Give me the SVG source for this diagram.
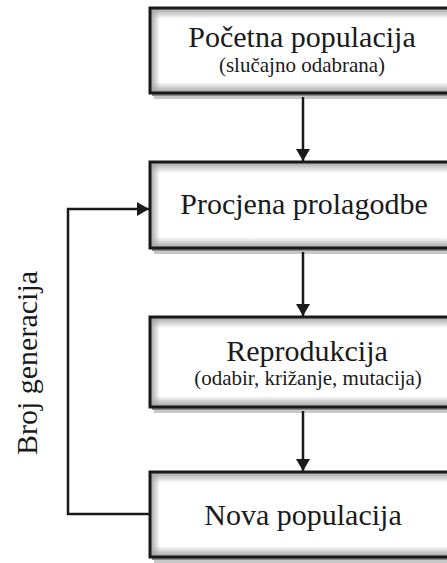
<svg xmlns="http://www.w3.org/2000/svg" width="447" height="563" viewBox="0 0 447 563">
<style>
.box{fill:none;stroke:#1a1a1a;stroke-width:3}
.bg{fill:#fff}
.s1{fill:#c8c8c8}
.s2{fill:#8a8a8a}
.t{font-family:"Liberation Serif","Times New Roman",serif;fill:#1a1a1a;text-anchor:middle}
.big{font-size:30px}
.small{font-size:21px}
.line{fill:none;stroke:#1a1a1a;stroke-width:2.5}
</style>
<defs>
<linearGradient id="gT" x1="0" y1="0" x2="0" y2="1"><stop offset="0" stop-color="#a0a0a0"/><stop offset="1" stop-color="#a0a0a0" stop-opacity="0"/></linearGradient>
<linearGradient id="gB" x1="0" y1="1" x2="0" y2="0"><stop offset="0" stop-color="#a0a0a0"/><stop offset="1" stop-color="#a0a0a0" stop-opacity="0"/></linearGradient>
<linearGradient id="gL" x1="0" y1="0" x2="1" y2="0"><stop offset="0" stop-color="#a0a0a0"/><stop offset="1" stop-color="#a0a0a0" stop-opacity="0"/></linearGradient>
<marker id="ah" viewBox="0 0 12 14" refX="12" refY="7" markerWidth="12" markerHeight="14" markerUnits="userSpaceOnUse" orient="auto"><path d="M0,0L12,7L0,14z" fill="#1a1a1a"/></marker>
</defs>
<g id="n1">
<rect class="s1" x="154" y="11" width="310" height="88"/>
<rect class="s2" x="152" y="10" width="310" height="86"/>
<rect class="bg" x="150" y="8" width="310" height="85"/>
<rect fill="url(#gT)" x="150" y="8" width="310" height="11"/>
<rect fill="url(#gB)" x="150" y="82" width="310" height="11"/>
<rect fill="url(#gL)" x="150" y="8" width="10" height="85"/>
<rect class="box" x="150" y="8" width="310" height="85"/>
<text class="t big" x="302" y="47">Početna populacija</text>
<text class="t small" x="302" y="72">(slučajno odabrana)</text>
</g>
<g id="n2">
<rect class="s1" x="154" y="165" width="310" height="89"/>
<rect class="s2" x="152" y="164" width="310" height="87"/>
<rect class="bg" x="150" y="162" width="310" height="86"/>
<rect fill="url(#gT)" x="150" y="162" width="310" height="11"/>
<rect fill="url(#gB)" x="150" y="237" width="310" height="11"/>
<rect fill="url(#gL)" x="150" y="162" width="10" height="86"/>
<rect class="box" x="150" y="162" width="310" height="86"/>
<text class="t big" x="304" y="214">Procjena prolagodbe</text>
</g>
<g id="n3">
<rect class="s1" x="154" y="320" width="310" height="93"/>
<rect class="s2" x="152" y="319" width="310" height="91"/>
<rect class="bg" x="150" y="317" width="310" height="90"/>
<rect fill="url(#gT)" x="150" y="317" width="310" height="11"/>
<rect fill="url(#gB)" x="150" y="396" width="310" height="11"/>
<rect fill="url(#gL)" x="150" y="317" width="10" height="90"/>
<rect class="box" x="150" y="317" width="310" height="90"/>
<text class="t big" x="307" y="361">Reprodukcija</text>
<text class="t small" x="308" y="385">(odabir, križanje, mutacija)</text>
</g>
<g id="n4">
<rect class="s1" x="154" y="475" width="310" height="88"/>
<rect class="s2" x="152" y="474" width="310" height="86"/>
<rect class="bg" x="150" y="472" width="310" height="85"/>
<rect fill="url(#gT)" x="150" y="472" width="310" height="11"/>
<rect fill="url(#gB)" x="150" y="546" width="310" height="11"/>
<rect fill="url(#gL)" x="150" y="472" width="10" height="85"/>
<rect class="box" x="150" y="472" width="310" height="85"/>
<text class="t big" x="303" y="525">Nova populacija</text>
</g>
<g id="connectors">
<line class="line" x1="303" y1="97" x2="303" y2="161" marker-end="url(#ah)"/>
<line class="line" x1="303" y1="252" x2="303" y2="316" marker-end="url(#ah)"/>
<line class="line" x1="303" y1="411" x2="303" y2="471" marker-end="url(#ah)"/>
<polyline class="line" points="149,514 68,514 68,209 149,209" marker-end="url(#ah)"/>
</g>
<text class="t big" transform="translate(37,363) rotate(-90)" x="0" y="0">Broj generacija</text>
</svg>
